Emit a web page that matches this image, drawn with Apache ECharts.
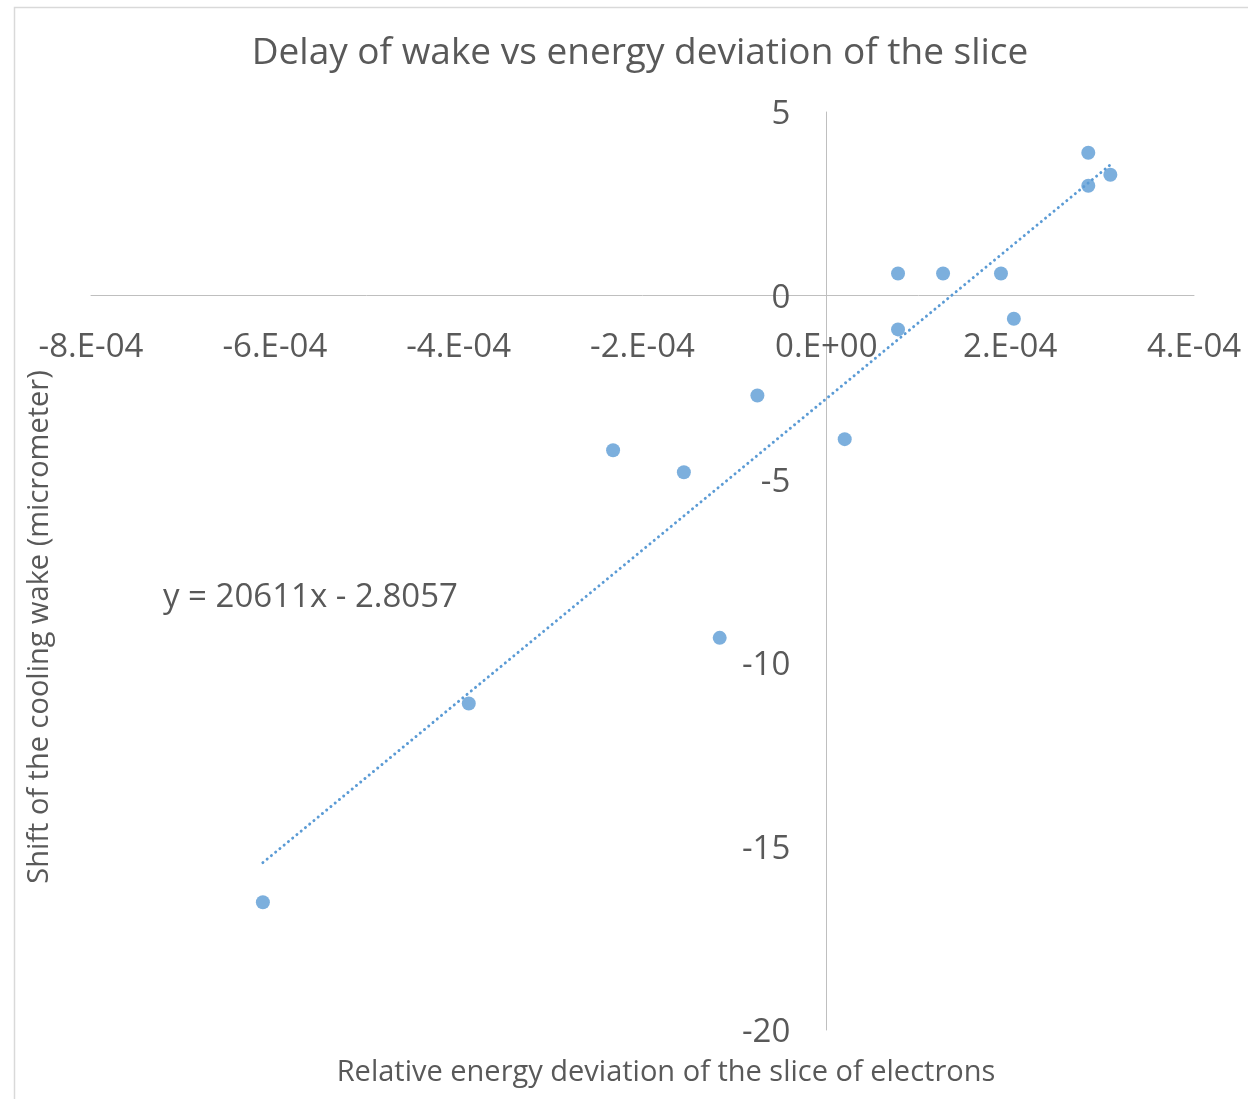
<!DOCTYPE html>
<html>
<head>
<meta charset="utf-8">
<script src="https://cdn.jsdelivr.net/npm/echarts@6/dist/echarts.min.js"></script>
<style>
html,body{margin:0;padding:0;background:#fff;}
#chart{width:1248px;height:1099px;}
</style>
</head>
<body>
<div id="chart"></div>
<script>
// Relative energy deviation of the slice (x) and shift of the cooling wake (y, micrometer)
const energyDeviation = [-6.13e-4, -3.89e-4, -2.32e-4, -1.55e-4, -1.16e-4, -0.75e-4, 0.20e-4, 0.78e-4, 0.78e-4, 1.27e-4, 1.90e-4, 2.04e-4, 2.85e-4, 2.85e-4, 3.09e-4];
const wakeShift       = [-16.52, -11.11, -4.21, -4.81, -9.32, -2.72, -3.91, 0.60, -0.92, 0.60, 0.60, -0.63, 3.89, 2.99, 3.29];

// Linear trendline shown on the chart
const trendSlope = 20611;
const trendIntercept = -2.8057;
const trendLabel = 'y = 20611x - 2.8057';

// Axis tick labels
const xTickLabels = ['-8.E-04', '-6.E-04', '-4.E-04', '-2.E-04', '0.E+00', '2.E-04', '4.E-04'];
const yTickLabels = ['-20', '-15', '-10', '-5', '0', '5'];

const titleText = 'Delay of wake vs energy deviation of the slice';
const xName = 'Relative energy deviation of the slice of electrons';
const yName = 'Shift of the cooling wake (micrometer)';

const X_MIN = -8e-4, X_MAX = 4e-4, X_STEP = 2e-4;
const Y_MIN = -20, Y_MAX = 5, Y_STEP = 5;

const points = energyDeviation.map((x, i) => [x, wakeShift[i]]);
const tMin = Math.min(...energyDeviation);
const tMax = Math.max(...energyDeviation);
const trendPoints = [[tMin, trendSlope * tMin + trendIntercept], [tMax, trendSlope * tMax + trendIntercept]];

const FONT = '"Open Sans", "Noto Sans", sans-serif';
const GREY = '#595959';
const BLUE = '#5b9bd5';

// grid geometry
const G_LEFT = 91, G_RIGHT = 54, G_TOP = 112, G_BOTTOM = 69;
const W = 1248, H = 1099;
const plotW = W - G_LEFT - G_RIGHT, plotH = H - G_TOP - G_BOTTOM;
// pixel position of the zero lines (labels sit beside the crossing axes, as in the reference)
const zeroY = G_TOP + plotH * (Y_MAX - 0) / (Y_MAX - Y_MIN);
const zeroX = G_LEFT + plotW * (0 - X_MIN) / (X_MAX - X_MIN);
const xLabelMargin = -((H - G_BOTTOM) - zeroY) + 35;
const yLabelMargin = -(zeroX - G_LEFT) + 36;

const chart = echarts.init(document.getElementById('chart'), null, {renderer: 'canvas'});
chart.setOption({
  animation: false,
  backgroundColor: '#ffffff',
  title: {
    text: titleText,
    left: 635,
    top: 30,
    textAlign: 'center',
    textStyle: {fontFamily: FONT, fontSize: 37, fontWeight: 'normal', color: GREY}
  },
  grid: {left: G_LEFT, right: G_RIGHT, top: G_TOP, bottom: G_BOTTOM, containLabel: false, outerBoundsMode: 'none'},
  xAxis: {
    type: 'value',
    min: X_MIN, max: X_MAX, interval: X_STEP,
    axisLine: {show: true, onZero: true, lineStyle: {color: '#bfbfbf', width: 1}},
    axisTick: {show: false},
    splitLine: {show: false},
    axisLabel: {
      margin: xLabelMargin,
      fontFamily: FONT, fontSize: 33, color: GREY,
      formatter: v => xTickLabels[Math.round((v - X_MIN) / X_STEP)]
    }
  },
  yAxis: {
    type: 'value',
    min: Y_MIN, max: Y_MAX, interval: Y_STEP,
    axisLine: {show: true, onZero: true, lineStyle: {color: '#bfbfbf', width: 1}},
    axisTick: {show: false},
    splitLine: {show: false},
    axisLabel: {
      margin: yLabelMargin,
      fontFamily: FONT, fontSize: 33, color: GREY,
      formatter: v => '{v|' + yTickLabels[Math.round((v - Y_MIN) / Y_STEP)] + '}',
      rich: {v: {fontFamily: FONT, fontSize: 33, color: GREY, padding: [6, 0, 0, 0]}}
    }
  },
  graphic: [
    {type: 'rect', left: 12, top: 5, z: -10, silent: true,
     shape: {width: 1400, height: 1300},
     style: {fill: 'none', stroke: '#d9d9d9', lineWidth: 1.5}},
    {type: 'text', x: 666, y: 1073, silent: true,
     style: {text: xName, font: '29px ' + FONT, fill: GREY, textAlign: 'center', textVerticalAlign: 'middle'}},
    {type: 'text', x: 40, y: 627, rotation: Math.PI / 2, silent: true,
     style: {text: yName, font: '29px ' + FONT, fill: GREY, textAlign: 'center', textVerticalAlign: 'middle'}},
    {type: 'text', x: 163, y: 598, silent: true,
     style: {text: trendLabel, font: '33px ' + FONT, fill: GREY, textAlign: 'left', textVerticalAlign: 'middle'}}
  ],
  series: [
    {
      type: 'line',
      data: trendPoints,
      symbol: 'none',
      silent: true,
      z: 1,
      lineStyle: {color: BLUE, width: 3, type: [0.01, 5.5], cap: 'round'}
    },
    {
      type: 'scatter',
      data: points,
      symbol: 'circle',
      symbolSize: 14,
      z: 2,
      itemStyle: {color: BLUE}
    }
  ]
});
</script>
</body>
</html>
